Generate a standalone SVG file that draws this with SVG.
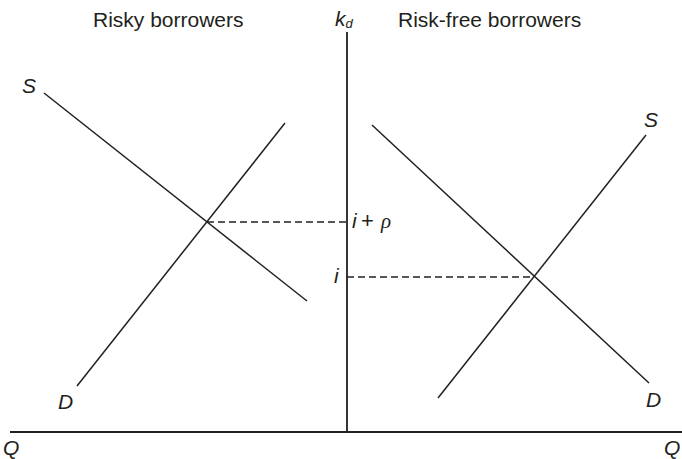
<svg xmlns="http://www.w3.org/2000/svg" width="682" height="459" viewBox="0 0 682 459">
<style>
.ln{stroke:#231f20;stroke-width:1.5;fill:none}
.ax{stroke:#231f20;stroke-width:1.8;fill:none}
.dash{stroke:#231f20;stroke-width:1.4;fill:none;stroke-dasharray:7 4}
.t{font-family:"Liberation Sans",Arial,sans-serif;font-size:21px;fill:#231f20}
.m{font-family:"Liberation Sans",Arial,sans-serif;font-size:21px;font-style:italic;fill:#231f20}
</style>
<rect width="682" height="459" fill="#ffffff"/>
<g id="axes">
<line class="ax" x1="347" y1="32" x2="347" y2="432"/>
<line class="ax" x1="10" y1="432" x2="682" y2="432"/>
</g>
<g id="curves">
<line class="ln" x1="44" y1="93" x2="307" y2="301"/>
<line class="ln" x1="77" y1="386" x2="285" y2="123"/>
<line class="ln" x1="372" y1="125" x2="649" y2="383"/>
<line class="ln" x1="438" y1="398" x2="646" y2="135"/>
<line class="dash" x1="207" y1="222" x2="347" y2="222"/>
<line class="dash" x1="347" y1="277" x2="534" y2="277"/>
</g>
<g id="labels">
<text class="t" x="93" y="27">Risky borrowers</text>
<text class="t" x="398" y="27">Risk-free borrowers</text>
<text class="m" x="335" y="26" font-size="19">k<tspan font-size="13" dy="2">d</tspan></text>
<text class="m" x="22" y="93">S</text>
<text class="m" x="644" y="127">S</text>
<text class="m" x="58" y="409">D</text>
<text class="m" x="646" y="407">D</text>
<text class="m" x="3" y="455">Q</text>
<text class="m" x="664" y="455">Q</text>
<text class="m" y="228"><tspan x="352">i</tspan><tspan x="361" font-style="normal" font-size="22">+</tspan><tspan x="381" font-family="'Liberation Serif',serif" font-size="21">ρ</tspan></text>
<text class="m" x="334" y="283">i</text>
</g>
</svg>
